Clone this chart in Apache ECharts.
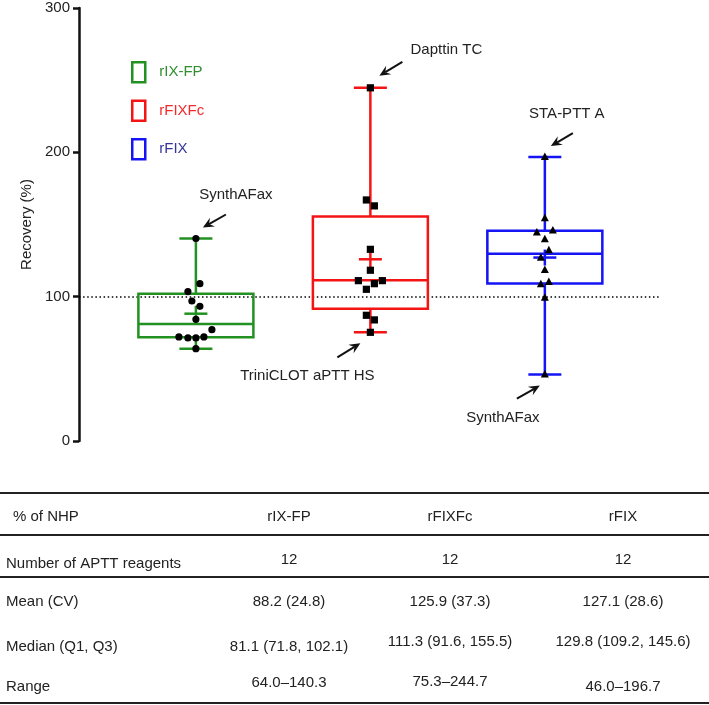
<!DOCTYPE html>
<html><head><meta charset="utf-8">
<script src="https://cdn.jsdelivr.net/npm/echarts@6/dist/echarts.min.js"></script>
<style>html,body{margin:0;padding:0;background:#fff}#c{width:709px;height:705px}</style>
</head><body><div id="c"></div>
<script>
// ---------------- DATA ----------------
const groups = ['rIX-FP', 'rFIXFc', 'rFIX'];
const nReagents = [12, 12, 12];
const means = [88.2, 125.9, 127.1];
const cvs = [24.8, 37.3, 28.6];
const medians = [81.1, 111.3, 129.8];
const q1s = [71.8, 91.6, 109.2];
const q3s = [102.1, 155.5, 145.6];
const mins = [64.0, 75.3, 46.0];
const maxs = [140.3, 244.7, 196.7];
const pointsRIXFP = [140.3, 109.0, 103.5, 97.0, 93.3, 84.3, 77.1, 72.1, 71.4, 71.4, 72.1, 64.0];
const pointsRFIXFc = [244.7, 167.0, 162.9, 132.8, 118.3, 111.1, 111.1, 109.0, 105.1, 87.1, 83.9, 75.3];
const pointsRFIX = [196.7, 154.3, 144.4, 145.8, 139.8, 132.2, 127.0, 118.5, 108.6, 110.2, 99.3, 46.0];
const yTicks = [0, 100, 200, 300];
const referenceLine = 100;
const annotationTexts = ['SynthAFax', 'Dapttin TC', 'STA-PTT A', 'TriniCLOT aPTT HS', 'SynthAFax'];
const annotationGroup = [0, 1, 2, 1, 2];
const annotationStat = ['max', 'max', 'max', 'min', 'min'];
const tableHeader = '% of NHP';
const tableRowLabels = ['Number of APTT reagents', 'Mean (CV)', 'Median (Q1, Q3)', 'Range'];

// ---------------- LAYOUT / STYLE ----------------
const FONT = 'Liberation Sans, Arial, Helvetica, sans-serif';
const lineColors = ['#229122', '#f41414', '#1414f5'];
const legendTextColors = ['#2f8f2f', '#f42a2a', '#35359a'];
const markerShapes = ['circle', 'square', 'triangle'];
const jitterPx = [
  [0, 4, -8, -4, 4, 0, 16, -17, -8, 0, 8, 0],
  [0, -4, 4, 0, 0, -12, 12, 4, -4, -4, 4, 0],
  [0, 0, -8, 8, 0, 4, -4, 0, -4, 4, 0, 0]
];
const BOX_W = 115, CAP_W = 33, MEAN_W = 23, MEAN_H = 16, LW = 2.5;
// [tipDx, tipDy, tailDx, tailDy, textDx, textDy]
const annotationOffsets = [
  [7, -11, 30, -24, 40, -44],
  [9, -12, 32, -26, 76, -38],
  [6, -11, 28, -24, 22, -43],
  [-10, 11, -33, 25, -63, 44],
  [-5, 11, -28, 24, -42, 43]
];

const allPoints = [pointsRIXFP, pointsRFIXFc, pointsRFIX];

const chart = echarts.init(document.getElementById('c'), null, {renderer: 'canvas'});

function boxRender(params, api) {
  const pos = api.value(0);
  const vmin = api.value(1), q1 = api.value(2), med = api.value(3), q3 = api.value(4), vmax = api.value(5), mean = api.value(6);
  const c = lineColors[params.seriesIndex];
  const pMin = api.coord([pos, vmin]), pQ1 = api.coord([pos, q1]), pMed = api.coord([pos, med]);
  const pQ3 = api.coord([pos, q3]), pMax = api.coord([pos, vmax]), pMean = api.coord([pos, mean]);
  const x = pMed[0];
  const st = {stroke: c, lineWidth: LW, fill: null};
  const line = (x1, y1, x2, y2) => ({type: 'line', shape: {x1, y1, x2, y2}, style: st});
  return {
    type: 'group',
    children: [
      line(x, pQ3[1], x, pMax[1]),
      line(x, pQ1[1], x, pMin[1]),
      line(x - CAP_W / 2, pMax[1], x + CAP_W / 2, pMax[1]),
      line(x - CAP_W / 2, pMin[1], x + CAP_W / 2, pMin[1]),
      {type: 'rect', shape: {x: x - BOX_W / 2, y: pQ3[1], width: BOX_W, height: pQ1[1] - pQ3[1]}, style: {stroke: c, lineWidth: LW, fill: 'rgba(0,0,0,0)'}},
      line(x - BOX_W / 2, pMed[1], x + BOX_W / 2, pMed[1]),
      line(x - MEAN_W / 2, pMean[1], x + MEAN_W / 2, pMean[1]),
      line(x, pMean[1] - MEAN_H / 2, x, pMean[1] + MEAN_H / 2)
    ]
  };
}

function pointRender(gi) {
  return function (params, api) {
    const p = api.coord([api.value(0), api.value(1)]);
    const x = p[0] + jitterPx[gi][api.value(2)], y = p[1];
    const shape = markerShapes[gi];
    const style = {fill: '#000'};
    if (shape === 'circle') return {type: 'circle', shape: {cx: x, cy: y, r: 3.6}, style};
    if (shape === 'square') return {type: 'rect', shape: {x: x - 3.6, y: y - 3.6, width: 7.2, height: 7.2}, style};
    return {type: 'polygon', shape: {points: [[x, y - 4.5], [x + 4, y + 3], [x - 4, y + 3]]}, style};
  };
}

const series = [];
groups.forEach((g, i) => {
  series.push({
    name: g,
    type: 'custom',
    renderItem: boxRender,
    itemStyle: {color: lineColors[i]},
    encode: {x: 0, y: [1, 2, 3, 4, 5, 6]},
    data: [[i + 1, mins[i], q1s[i], medians[i], q3s[i], maxs[i], means[i]]],
    z: 2,
    silent: true,
    markLine: i === 0 ? {
      silent: true, symbol: 'none', label: {show: false},
      lineStyle: {color: '#000', type: [1.5, 2.6], width: 1.5},
      data: [{yAxis: referenceLine}], z: 1
    } : undefined
  });
});
groups.forEach((g, i) => {
  series.push({
    name: g + ' points',
    type: 'custom',
    renderItem: pointRender(i),
    encode: {x: 0, y: 1},
    data: allPoints[i].map((v, k) => [i + 1, v, k]),
    z: 5,
    silent: true
  });
});

chart.setOption({
  animation: false,
  backgroundColor: '#fff',
  grid: {left: 79, right: 49, top: 8, bottom: 264},
  xAxis: {type: 'value', min: 0.33, max: 3.66, show: false},
  yAxis: {
    type: 'value', min: yTicks[0], max: yTicks[yTicks.length - 1], interval: 100,
    name: 'Recovery (%)', nameLocation: 'middle', nameGap: 45, nameRotate: 90,
    nameTextStyle: {fontFamily: FONT, fontSize: 15, color: '#222'},
    axisLine: {show: true, onZero: false, lineStyle: {color: '#111', width: 2.5}},
    axisTick: {show: true, length: 6, lineStyle: {color: '#111', width: 2.5}},
    axisLabel: {fontFamily: FONT, fontSize: 15, color: '#222', margin: 9},
    splitLine: {show: false}
  },
  legend: {
    orient: 'vertical', left: 131, top: 61, padding: 0, itemWidth: 13, itemHeight: 20, itemGap: 16,
    icon: 'rect', selectedMode: false,
    data: groups.map((g, i) => ({
      name: g,
      itemStyle: {color: 'rgba(0,0,0,0)', borderColor: lineColors[i], borderWidth: 2.5},
      textStyle: {color: legendTextColors[i], fontFamily: FONT, fontSize: 15, padding: [0, 0, 0, 9]}
    }))
  },
  series
});

// ------------- annotations & table as graphic -------------
const graphic = [];
annotationTexts.forEach((t, k) => {
  const gi = annotationGroup[k];
  const v = annotationStat[k] === 'max' ? maxs[gi] : mins[gi];
  const p = chart.convertToPixel({gridIndex: 0}, [gi + 1, v]);
  const o = annotationOffsets[k];
  const tip = [p[0] + o[0], p[1] + o[1]], tail = [p[0] + o[2], p[1] + o[3]];
  const dx = tip[0] - tail[0], dy = tip[1] - tail[1], L = Math.hypot(dx, dy);
  const ux = dx / L, uy = dy / L, nx = -uy, ny = ux;
  const hl = 11, hw = 5, notch = 7;
  graphic.push({type: 'line', shape: {x1: tail[0], y1: tail[1], x2: tip[0] - ux * notch, y2: tip[1] - uy * notch}, style: {stroke: '#111', lineWidth: 2}});
  graphic.push({type: 'polygon', shape: {points: [
    tip,
    [tip[0] - ux * hl + nx * hw, tip[1] - uy * hl + ny * hw],
    [tip[0] - ux * notch, tip[1] - uy * notch],
    [tip[0] - ux * hl - nx * hw, tip[1] - uy * hl - ny * hw]
  ]}, style: {fill: '#111'}});
  graphic.push({type: 'text', x: p[0] + o[4], y: p[1] + o[5], style: {text: t, font: '15px ' + FONT, fill: '#222', align: 'center', verticalAlign: 'middle'}});
});

// table
const tableLinesY = [493, 535, 577, 703];
tableLinesY.forEach(y => graphic.push({type: 'line', shape: {x1: 0, y1: y, x2: 709, y2: y}, style: {stroke: '#222', lineWidth: 2}}));
const colX = [289, 450, 623];
const labelX = [13, 6, 6, 6, 6];
const labelY = [517, 564, 602, 647, 687];
const valueY = [[517, 517, 517], [560, 560, 560], [602, 602, 602], [647, 642, 642], [683, 682, 687]];
const rowValues = [
  groups,
  nReagents.map(String),
  means.map((m, i) => m.toFixed(1) + ' (' + cvs[i].toFixed(1) + ')'),
  medians.map((m, i) => m.toFixed(1) + ' (' + q1s[i].toFixed(1) + ', ' + q3s[i].toFixed(1) + ')'),
  mins.map((m, i) => m.toFixed(1) + '\u2013' + maxs[i].toFixed(1))
];
const rowLabels = [tableHeader].concat(tableRowLabels);
rowLabels.forEach((lab, r) => {
  graphic.push({type: 'text', x: labelX[r], y: labelY[r], style: {text: lab, font: '15px ' + FONT, fill: '#222', align: 'left', verticalAlign: 'middle'}});
  rowValues[r].forEach((val, c) => {
    graphic.push({type: 'text', x: colX[c], y: valueY[r][c], style: {text: val, font: '15px ' + FONT, fill: '#222', align: 'center', verticalAlign: 'middle'}});
  });
});

chart.setOption({graphic});
</script>
</body></html>
